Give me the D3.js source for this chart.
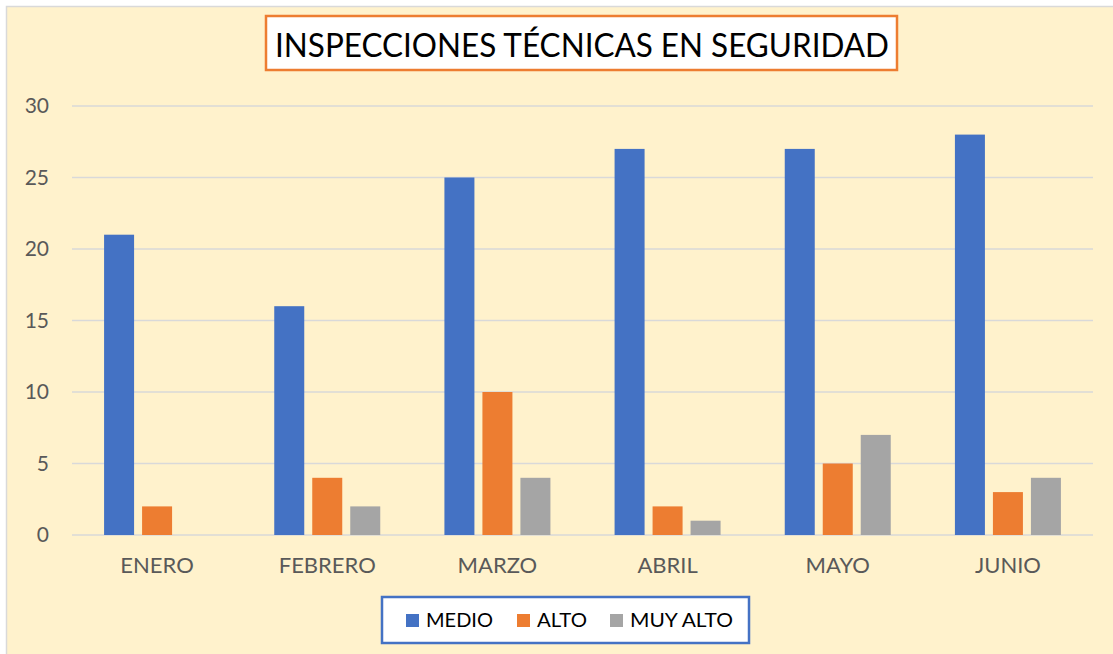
<!DOCTYPE html>
<html>
<head>
<meta charset="utf-8">
<script src="https://cdn.jsdelivr.net/npm/d3@7"></script>
<style>
  body { margin: 0; background: #ffffff; }
  text { font-family: Lato, "Open Sans", sans-serif; }
</style>
</head>
<body>
<svg id="chart"></svg>
<script>
// data
const months = ["ENERO", "FEBRERO", "MARZO", "ABRIL", "MAYO", "JUNIO"];
const seriesNames = ["MEDIO", "ALTO", "MUY ALTO"];
const medio = [21, 16, 25, 27, 27, 28];
const alto = [2, 4, 10, 2, 5, 3];
const muyAlto = [0, 2, 4, 1, 7, 4];
const yTicks = [0, 5, 10, 15, 20, 25, 30];
const colors = ["#4472C4", "#ED7D31", "#A5A5A5"];

const width = 1113, height = 654;
const margin = {top: 106, right: 20, bottom: 119, left: 72};

const svg = d3.select("#chart")
    .attr("width", width)
    .attr("height", height);

// chart area background with grey frame
svg.append("rect")
    .attr("x", 6.5).attr("y", 6.5)
    .attr("width", width).attr("height", height)
    .attr("fill", "#FFF2CC")
    .attr("stroke", "#D9D9D9")
    .attr("stroke-width", 1.5);

let table = months.map(function(m, i){
    return {month: m, values: [medio[i], alto[i], muyAlto[i]]};
});

let x0 = d3.scaleBand()
    .domain(months)
    .range([margin.left, width - margin.right]);

// group of three bars, 30px wide with 8px gaps
let groupW = 106;
let x1 = d3.scaleBand()
    .domain(seriesNames)
    .range([(x0.bandwidth() - groupW) / 2, (x0.bandwidth() + groupW) / 2])
    .paddingInner(8 / 38);

let y = d3.scaleLinear()
    .domain([0, 30])
    .range([height - margin.bottom, margin.top]);

// gridlines
svg.append("g")
    .selectAll("line")
    .data(yTicks)
    .join("line")
    .attr("x1", margin.left)
    .attr("x2", width - margin.right)
    .attr("y1", d => y(d))
    .attr("y2", d => y(d))
    .attr("stroke", "#D9D9D9")
    .attr("stroke-width", 1.5);

// y axis labels
let yAxis = d3.axisLeft(y).tickValues(yTicks).tickSize(0).tickPadding(23);
let yAxisG = svg.append("g")
    .attr("transform", "translate(" + margin.left + ",0)")
    .call(yAxis);
yAxisG.select(".domain").remove();
yAxisG.selectAll("text")
    .attr("fill", "#595959")
    .style("font-size", "21px");

// x axis labels
let xAxis = d3.axisBottom(x0).tickSize(0).tickPadding(22);
let xAxisG = svg.append("g")
    .attr("transform", "translate(0," + y(0) + ")")
    .call(xAxis);
xAxisG.select(".domain").remove();
xAxisG.selectAll("text")
    .attr("fill", "#595959")
    .style("font-size", "22px");

// bars
let groups = svg.append("g")
    .selectAll("g")
    .data(table)
    .join("g")
    .attr("transform", d => "translate(" + x0(d.month) + ",0)");

groups.selectAll("rect")
    .data(d => d.values.map((v, i) => ({name: seriesNames[i], value: v, color: colors[i]})))
    .join("rect")
    .attr("x", d => x1(d.name))
    .attr("width", x1.bandwidth())
    .attr("y", d => y(d.value))
    .attr("height", d => y(0) - y(d.value))
    .attr("fill", d => d.color);

// title box
svg.append("rect")
    .attr("x", 266).attr("y", 16)
    .attr("width", 631).attr("height", 54)
    .attr("fill", "#ffffff")
    .attr("stroke", "#ED7D31")
    .attr("stroke-width", 2.5);

svg.append("text")
    .attr("x", 582).attr("y", 57)
    .attr("text-anchor", "middle")
    .attr("fill", "#000000")
    .style("font-size", "33px")
    .attr("textLength", 614)
    .attr("lengthAdjust", "spacingAndGlyphs")
    .text("INSPECCIONES TÉCNICAS EN SEGURIDAD");

// legend
svg.append("rect")
    .attr("x", 382).attr("y", 597)
    .attr("width", 367).attr("height", 46)
    .attr("fill", "#ffffff")
    .attr("stroke", "#4472C4")
    .attr("stroke-width", 2.5);

let legendX = [406, 517, 610];
let legendW = [67, 50, 103];
let legend = svg.append("g")
    .selectAll("g")
    .data(seriesNames)
    .join("g")
    .attr("transform", (d, i) => "translate(" + legendX[i] + ",0)");

legend.append("rect")
    .attr("x", 0).attr("y", 614)
    .attr("width", 13).attr("height", 13)
    .attr("fill", (d, i) => colors[i]);

legend.append("text")
    .attr("x", 20).attr("y", 627)
    .attr("fill", "#000000")
    .style("font-size", "19px")
    .attr("textLength", (d, i) => legendW[i])
    .attr("lengthAdjust", "spacingAndGlyphs")
    .text(d => d);
</script>
</body>
</html>
